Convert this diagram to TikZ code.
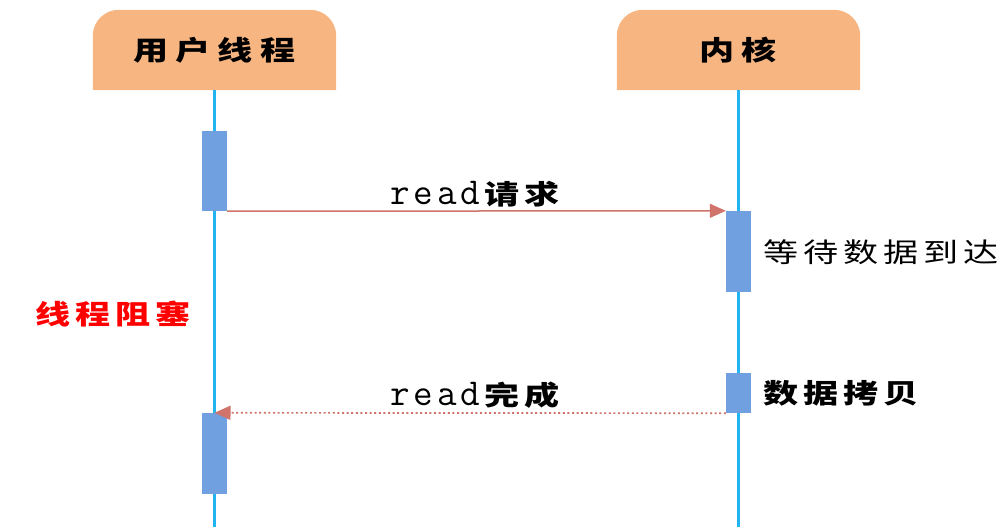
\documentclass[tikz,border=0pt]{standalone}
\usepackage{fontspec}
\newfontfamily\cjk[FakeStretch=1.3]{Noto Sans CJK SC}
\usetikzlibrary{arrows.meta,backgrounds}
\definecolor{hdrc}{HTML}{F7B581}
\definecolor{lifec}{HTML}{22B4F0}
\definecolor{barc}{HTML}{70A0DF}
\definecolor{msgc}{HTML}{D0736B}
\newcommand\cgap[1][5pt]{\hspace{#1}}
\newcommand\rdword{{\mdseries\ttfamily\fontsize{38}{44}\selectfont r\hspace{4pt}e\hspace{4pt}a\hspace{4pt}d\hspace{4pt}}}
\begin{document}
\begin{tikzpicture}[x=1pt,y=-1pt,
  hdrbox/.style={minimum width=243pt,minimum height=80pt,inner sep=0pt,font=\cjk\bfseries\fontsize{27}{32}\selectfont},
  life/.style={draw=lifec,line width=2.2pt},
  bar/.style={fill=barc,minimum width=25pt,inner sep=0pt,draw=none},
  msg/.style={draw=msgc,line width=1.5pt,-{Triangle[length=16pt,width=14pt]}},
  lbl/.style={inner sep=0pt,anchor=base west,font=\cjk\bfseries\fontsize{27}{32}\selectfont},
  note/.style={inner sep=0pt,anchor=west,font=\cjk\fontsize{27}{32}\selectfont}]
\useasboundingbox (0,0) rectangle (1001,527);
\node[hdrbox] (user) at (214.5,50) {用\cgap[7pt]户\cgap[7pt]线\cgap[7pt]程};
\node[hdrbox] (kern) at (738.5,50) {内\cgap[7pt]核};
\begin{scope}[on background layer]
\foreach \h in {user,kern}{
  \fill[hdrc] (\h.south west) -- ([yshift=-26pt]\h.north west)
    arc[start angle=180,end angle=90,radius=26pt]
    -- ([xshift=-26pt]\h.north east)
    arc[start angle=90,end angle=0,radius=26pt]
    -- (\h.south east) -- cycle;
}
\end{scope}
\coordinate (uend) at (214.5,527);
\coordinate (kend) at (738.5,527);
\draw[life] (user.south) -- (uend);
\draw[life] (kern.south) -- (kend);
\node[bar,minimum height=80pt] (b1) at (214.5,171) {};
\node[bar,minimum height=81pt] (b2) at (738.5,251.5) {};
\node[bar,minimum height=40pt] (b3) at (738.5,393) {};
\node[bar,minimum height=81pt] (b4) at (214.5,453.5) {};
\draw[msg] (b1.south east) -- (b2.north west);
\draw[msg,line width=1.7pt,dash pattern=on 2pt off 2.6pt] (b3.south west) -- (b4.north);
\node[lbl] (l1) at (390,204) {\rdword 请\cgap 求};
\node[lbl] (l2) at (390,405) {\rdword 完\cgap 成};
\node[note] (n1) at (763,252) {等\cgap 待\cgap 数\cgap 据\cgap 到\cgap 达};
\node[note,font=\cjk\bfseries\fontsize{27}{32}\selectfont] (n2) at (763,393) {数\cgap 据\cgap 拷\cgap 贝};
\node[note,font=\cjk\bfseries\fontsize{27}{32}\selectfont,text=red] (n3) at (35,314) {线\cgap 程\cgap 阻\cgap 塞};
\end{tikzpicture}
\end{document}
